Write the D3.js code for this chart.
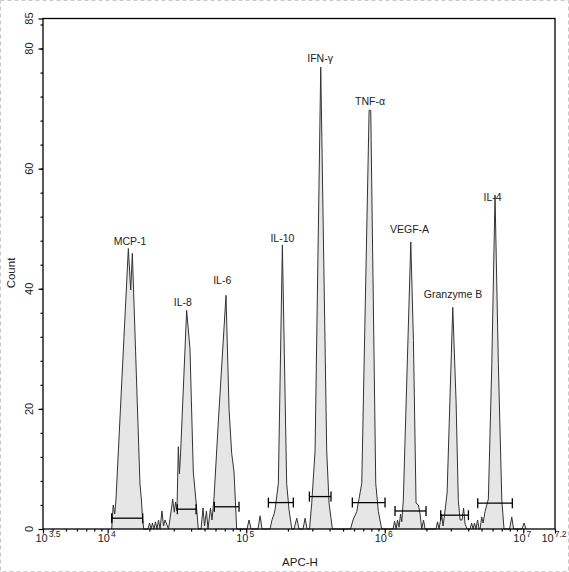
<!DOCTYPE html>
<html>
<head>
<meta charset="utf-8">
<script src="https://cdn.jsdelivr.net/npm/d3@7"></script>
<style>
	body { margin: 0; background: #fff; }
	svg { display: block; font-family: Arial, "Liberation Sans", sans-serif; }
</style>
</head>
<body>
<div id="chart"></div>
<script>
// histogram outline: log10(APC-H) and count
const apcLog = [
	4.029, 4.040, 4.051, 4.060, 4.149, 4.166, 4.178, 4.233, 4.243, 4.251, 4.260,
	4.291, 4.302, 4.313, 4.323, 4.334, 4.345, 4.356, 4.367, 4.378, 4.392, 4.403, 4.414,
	4.439, 4.461, 4.469, 4.481, 4.490, 4.500, 4.510, 4.518, 4.526, 4.570, 4.594, 4.618, 4.638, 4.654,
	4.674, 4.688, 4.699, 4.713, 4.724, 4.742, 4.753, 4.767, 4.799, 4.854, 4.876, 4.895, 4.912, 4.931,
	5.006, 5.020, 5.035, 5.085, 5.100, 5.114,
	5.172, 5.186, 5.201, 5.208, 5.232, 5.261, 5.292, 5.309, 5.329,
	5.345, 5.365, 5.381, 5.410, 5.425, 5.439,
	5.457, 5.473, 5.497, 5.538, 5.581, 5.598, 5.622,
	5.753, 5.771, 5.798, 5.834, 5.887, 5.899, 5.935, 5.954, 5.978,
	6.060, 6.071, 6.082, 6.092, 6.103, 6.114, 6.123, 6.134, 6.188, 6.207, 6.226, 6.243, 6.255, 6.267, 6.280, 6.291,
	6.370, 6.381, 6.392, 6.410, 6.421, 6.435, 6.450, 6.491, 6.515, 6.531, 6.544, 6.558, 6.569, 6.580, 6.596,
	6.616, 6.627, 6.638, 6.648, 6.659, 6.670, 6.681,
	6.688, 6.700, 6.710, 6.724, 6.748, 6.773, 6.796, 6.820, 6.845, 6.861,
	6.901, 6.917, 6.930, 6.991, 7.006, 7.020
];
const counts = [
	0, 4.0, 2.5, 5.0, 46.7, 39.8, 45.9, 7.5, 5.0, 2.0, 0,
	0, 1.0, 0, 1.0, 0, 1.2, 0, 1.5, 0, 3.0, 0.5, 1.5,
	0, 3.5, 5.0, 2.8, 4.5, 3.0, 13.7, 9.2, 12.5, 36.4, 30.0, 9.5, 4.5, 0,
	0, 3.5, 0.5, 3.0, 0, 3.5, 1.5, 5.0, 18.0, 38.9, 20.0, 12.6, 9.5, 0,
	0, 1.5, 0, 0, 2.2, 0,
	0, 1.5, 2.5, 3.2, 7.6, 47.3, 7.6, 3.2, 0,
	0, 1.8, 0, 0, 1.8, 0,
	0, 4.3, 13.0, 76.9, 13.0, 4.3, 0,
	0, 1.5, 2.9, 7.6, 69.7, 69.7, 7.6, 2.9, 0,
	0, 1.3, 0, 1.5, 0.3, 2.5, 1.2, 4.8, 47.8, 31.4, 4.3, 4.0, 2.5, 0, 1.5, 0,
	0, 1.2, 0, 2.5, 0.5, 3.0, 6.0, 36.9, 21.2, 4.8, 1.5, 1.5, 3.5, 0.8, 0,
	0, 1.0, 0, 1.0, 0, 1.5, 0,
	0, 2.0, 1.0, 2.9, 5.0, 27.6, 55.6, 27.6, 4.8, 0,
	0, 2.0, 0, 0, 1.0, 0
];

const populations = ["MCP-1", "IL-8", "IL-6", "IL-10", "IFN-\u03b3", "TNF-\u03b1", "VEGF-A", "Granzyme B", "IL-4"];
const labelLog = [4.161, 4.542, 4.827, 5.261, 5.533, 5.894, 6.179, 6.493, 6.778];
const labelCount = [48.0, 37.8, 41.4, 48.4, 78.5, 71.2, 50.0, 39.1, 55.2];

// gate bars
const gateLo = [4.029, 4.503, 4.770, 5.160, 5.456, 5.766, 6.074, 6.404, 6.671];
const gateHi = [4.253, 4.638, 4.948, 5.340, 5.612, 6.002, 6.298, 6.604, 6.921];
const gateCount = [1.8, 3.3, 3.7, 4.4, 5.4, 4.4, 3.0, 2.3, 4.3];

const xTickExp = [3.533, 4, 5, 6, 7, 7.229];
const xTickLabel = ["3.5", "4", "5", "6", "7", "7.2"];
const yTicks = [0, 20, 40, 60, 80, 85];
const yTickLabel = ["0", "20", "40", "60", "80", "85"];

const W = 569, H = 572;
const plot = {left: 43, right: 555, top: 18.5, bottom: 529};

const svg = d3.select("#chart")
	.append("svg")
	.attr("width", W)
	.attr("height", H);

svg.append("rect")
	.attr("x", 0.5).attr("y", 0.5)
	.attr("width", W - 1).attr("height", H - 1)
	.attr("fill", "none")
	.attr("stroke", "#c8c8c8")
	.attr("stroke-dasharray", "4,3");

const x = d3.scaleLog()
	.domain([10 ** xTickExp[0], 10 ** xTickExp[xTickExp.length - 1]])
	.range([plot.left, plot.right]);
const y = d3.scaleLinear()
	.domain([0, 85])
	.range([plot.bottom, plot.top]);

const points = d3.zip(apcLog, counts);

const area = d3.area()
	.x((d) => { return x(10 ** d[0]); })
	.y0(y(0))
	.y1((d) => { return y(d[1]); });
const line = d3.line()
	.x((d) => { return x(10 ** d[0]); })
	.y((d) => { return y(d[1]); });

svg.append("path")
	.attr("d", area(points))
	.attr("fill", "#e6e6e6");
svg.append("path")
	.attr("d", line(points))
	.attr("fill", "none")
	.attr("stroke", "#333")
	.attr("stroke-width", 1)
	.attr("stroke-linejoin", "miter");

// gates
const gates = svg.selectAll(".gate")
	.data(populations).enter()
	.append("g").attr("class", "gate")
	.attr("stroke", "#000")
	.attr("stroke-width", 1.3);
gates.append("line")
	.attr("x1", (d, i) => { return x(10 ** gateLo[i]); })
	.attr("x2", (d, i) => { return x(10 ** gateHi[i]); })
	.attr("y1", (d, i) => { return y(gateCount[i]); })
	.attr("y2", (d, i) => { return y(gateCount[i]); });
gates.append("line")
	.attr("x1", (d, i) => { return x(10 ** gateLo[i]); })
	.attr("x2", (d, i) => { return x(10 ** gateLo[i]); })
	.attr("y1", (d, i) => { return y(gateCount[i]) - 5; })
	.attr("y2", (d, i) => { return y(gateCount[i]) + 5; });
gates.append("line")
	.attr("x1", (d, i) => { return x(10 ** gateHi[i]); })
	.attr("x2", (d, i) => { return x(10 ** gateHi[i]); })
	.attr("y1", (d, i) => { return y(gateCount[i]) - 5; })
	.attr("y2", (d, i) => { return y(gateCount[i]) + 5; });

// peak labels
svg.selectAll(".peakLabel")
	.data(populations).enter()
	.append("text")
	.attr("class", "peakLabel")
	.attr("x", (d, i) => { return x(10 ** labelLog[i]); })
	.attr("y", (d, i) => { return y(labelCount[i]) + 4; })
	.attr("text-anchor", "middle")
	.attr("font-size", "10.5px")
	.attr("fill", "#222")
	.text((d) => { return d; });

// frame
svg.append("rect")
	.attr("x", plot.left).attr("y", plot.top)
	.attr("width", plot.right - plot.left)
	.attr("height", plot.bottom - plot.top)
	.attr("fill", "none")
	.attr("stroke", "#000")
	.attr("stroke-width", 1.3);

// x axis ticks
let xMinor = [];
for (let k = 3; k <= 7; k++) {
	for (let m = 2; m <= 9; m++) {
		const v = m * 10 ** k;
		if (v > x.domain()[0] && v < x.domain()[1]) xMinor.push(v);
	}
}
const xAxisMinor = svg.append("g")
	.attr("transform", "translate(0," + plot.bottom + ")")
	.call(d3.axisBottom(x).tickValues(xMinor).tickSize(2.5).tickFormat(""));
const xAxisMajor = svg.append("g")
	.attr("transform", "translate(0," + plot.bottom + ")")
	.call(d3.axisBottom(x).tickValues(xTickExp.map((e) => 10 ** e)).tickSize(4.5).tickFormat(""));
[xAxisMinor, xAxisMajor].forEach((g) => {
	g.select(".domain").remove();
	g.selectAll("line").attr("stroke", "#000").attr("stroke-width", 1.2);
});

const xLabels = svg.selectAll(".xLabel")
	.data(xTickLabel).enter()
	.append("text")
	.attr("class", "xLabel")
	.attr("x", (d, i) => { return x(10 ** xTickExp[i]) + (i == 0 ? 5 : -1); })
	.attr("y", plot.bottom + 13)
	.attr("text-anchor", "middle")
	.attr("font-size", "11px")
	.attr("fill", "#222");
xLabels.append("tspan").text("10");
xLabels.append("tspan")
	.attr("font-size", "8.5px")
	.attr("dx", 1)
	.attr("dy", -5)
	.text((d) => { return d; });

// y axis ticks
const yAxisMinor = svg.append("g")
	.attr("transform", "translate(" + plot.left + ",0)")
	.call(d3.axisLeft(y).tickValues(d3.range(4, 85, 4)).tickSize(2.5).tickFormat(""));
const yAxisMajor = svg.append("g")
	.attr("transform", "translate(" + plot.left + ",0)")
	.call(d3.axisLeft(y).tickValues(yTicks).tickSize(4.5).tickFormat(""));
[yAxisMinor, yAxisMajor].forEach((g) => {
	g.select(".domain").remove();
	g.selectAll("line").attr("stroke", "#000").attr("stroke-width", 1.2);
});

svg.selectAll(".yLabel")
	.data(yTickLabel).enter()
	.append("text")
	.attr("class", "yLabel")
	.attr("transform", (d, i) => { return "translate(33," + y(yTicks[i]) + ") rotate(-90)"; })
	.attr("text-anchor", "middle")
	.attr("font-size", "11px")
	.attr("fill", "#222")
	.text((d) => { return d; });

// axis titles
svg.append("text")
	.attr("x", (plot.left + plot.right) / 2 + 1)
	.attr("y", 565.5)
	.attr("text-anchor", "middle")
	.attr("font-size", "11.5px")
	.attr("fill", "#222")
	.text("APC-H");
svg.append("text")
	.attr("transform", "translate(15,273) rotate(-90)")
	.attr("text-anchor", "middle")
	.attr("font-size", "11.5px")
	.attr("fill", "#222")
	.text("Count");
</script>
</body>
</html>
